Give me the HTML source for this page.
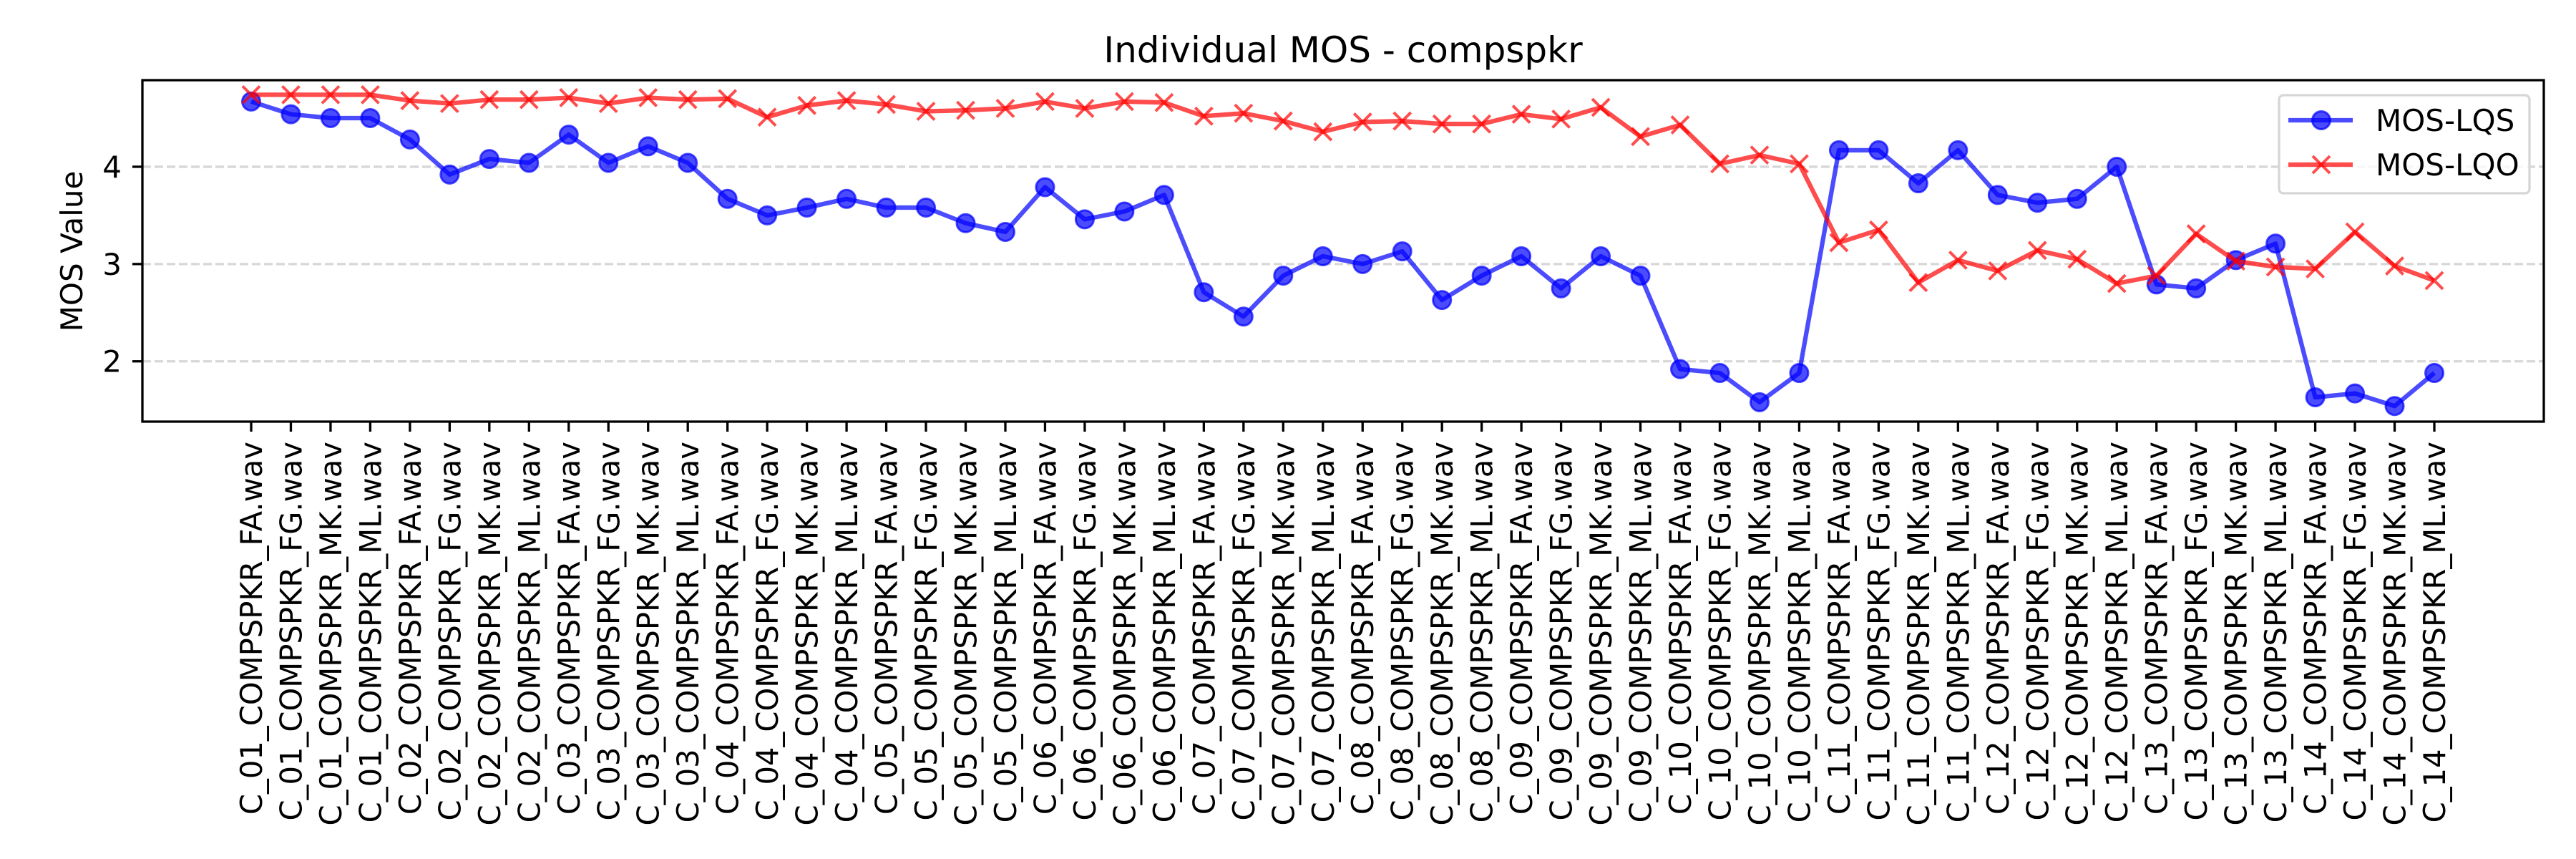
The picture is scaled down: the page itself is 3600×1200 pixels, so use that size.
<!DOCTYPE html>
<html><head><meta charset="utf-8"><style>
html,body{margin:0;padding:0;background:#fff}
svg{display:block;font-family:"DejaVu Sans","Liberation Sans",sans-serif}
</style></head><body>
<svg id="chart" width="3600" height="1200" viewBox="0 0 3600 1200" xmlns="http://www.w3.org/2000/svg">
<rect width="3600" height="1200" fill="#fff"/>
<text x="1877" y="87" font-size="50" text-anchor="middle">Individual MOS - compspkr</text>
<g id="grid"></g>
<g id="yaxis"></g>
<g id="xaxis"></g>
<g id="series"></g>
<rect x="199" y="112" width="3356" height="477" fill="none" stroke="#000" stroke-width="3.3"/>
<text transform="translate(115,351) rotate(-90)" font-size="42" text-anchor="middle">MOS Value</text>
<g>
<rect x="3185" y="133" width="350" height="137" rx="6" fill="#fff" fill-opacity="0.8" stroke="#d6d6d6" stroke-width="3.3"/>
<g>
<line x1="3198" y1="168" x2="3288" y2="168" stroke="#0000ff" stroke-opacity="0.7" stroke-width="6.25"/>
<circle cx="3244" cy="168" r="12.5" fill="#0000ff" fill-opacity="0.7" stroke="#0000ff" stroke-opacity="0.7" stroke-width="3"/>
<text x="3320" y="183" font-size="42">MOS-LQS</text></g>
<g>
<line x1="3198" y1="230" x2="3288" y2="230" stroke="#ff0000" stroke-opacity="0.7" stroke-width="6.25"/>
<path d="M3232,218L3256,242M3232,242L3256,218" stroke="#ff0000" stroke-opacity="0.7" stroke-width="4"/>
<text x="3320" y="245" font-size="42">MOS-LQO</text></g>
</g>
</svg>
<script>
const categories = (function(){const a=[];for(let c=1;c<=14;c++){for(const s of ["FA","FG","MK","ML"]){a.push("C_"+String(c).padStart(2,"0")+"_COMPSPKR_"+s+".wav");}}return a;})();
const lqsValues = [4.67,4.54,4.5,4.5,4.28,3.92,4.08,4.04,4.33,4.04,4.21,4.04,3.67,3.5,3.58,3.67,3.58,3.58,3.42,3.33,3.79,3.46,3.54,3.71,2.71,2.46,2.88,3.08,3.0,3.13,2.63,2.88,3.08,2.75,3.08,2.88,1.92,1.88,1.58,1.88,4.17,4.17,3.83,4.17,3.71,3.63,3.67,4.0,2.79,2.75,3.04,3.21,1.63,1.67,1.54,1.88];
const lqoValues = [4.74,4.74,4.74,4.74,4.68,4.65,4.69,4.69,4.71,4.65,4.71,4.69,4.70,4.51,4.63,4.68,4.64,4.57,4.58,4.60,4.67,4.60,4.67,4.66,4.52,4.55,4.47,4.36,4.46,4.47,4.44,4.44,4.54,4.49,4.61,4.31,4.43,4.03,4.12,4.03,3.22,3.35,2.81,3.04,2.93,3.14,3.05,2.80,2.88,3.31,3.03,2.97,2.95,3.33,2.98,2.83];
const yTicks = [2,3,4];
const yMin = 1.38, yMax = 4.89;
const NS="http://www.w3.org/2000/svg";
const X0=351, X1=3402, PT=112, PB=589;
function xs(i){return X0+(X1-X0)*i/(categories.length-1);}
function ys(v){return PB-(v-yMin)/(yMax-yMin)*(PB-PT);}
function mk(tag,attrs,parent){const e=document.createElementNS(NS,tag);for(const k in attrs)e.setAttribute(k,attrs[k]);parent.appendChild(e);return e;}
const grid=document.getElementById('grid'),ya=document.getElementById('yaxis'),xa=document.getElementById('xaxis'),ser=document.getElementById('series');
yTicks.forEach(t=>{
  const y=ys(t);
  const g=mk('line',{x1:199,x2:3555,y1:y,y2:y,stroke:'#b0b0b0','stroke-opacity':0.5,'stroke-width':3.3,'stroke-dasharray':'12,5'},grid);
  
  
  const tk=mk('line',{x1:185,x2:199,y1:y,y2:y,stroke:'#000','stroke-width':3.3},ya);
  
  
  const tx=mk('text',{x:170,y:y+15,'font-size':42,'text-anchor':'end'},ya);
  tx.textContent=t;
  
  
});
categories.forEach((c,i)=>{
  const x=xs(i);
  const tk=mk('line',{x1:x,x2:x,y1:589,y2:603,stroke:'#000','stroke-width':3.3},xa);
  
  
  const tx=mk('text',{transform:`translate(${x+15},617) rotate(-90)`,'font-size':41.7,'text-anchor':'end'},xa);
  tx.textContent=c;
  
  
});
function series(vals,color,name,marker){
  const g=mk('g',{},ser);
  
  
  const pl=mk('polyline',{points:vals.map((v,i)=>xs(i)+','+ys(v)).join(' '),fill:'none',stroke:color,'stroke-opacity':0.7,'stroke-width':6.25,'stroke-linejoin':'round'},g);
  
  
  vals.forEach((v,i)=>{
    const x=xs(i),y=ys(v);let m;
    if(marker==='o'){m=mk('circle',{cx:x,cy:y,r:12.5,fill:color,'fill-opacity':0.7,stroke:color,'stroke-opacity':0.7,'stroke-width':3},g);}
    else{m=mk('path',{d:`M${x-12},${y-12}L${x+12},${y+12}M${x-12},${y+12}L${x+12},${y-12}`,stroke:color,'stroke-opacity':0.7,'stroke-width':4},g);}
    
    
  });
}
series(lqsValues,'#0000ff','mos-lqs-series','o');
series(lqoValues,'#ff0000','mos-lqo-series','x');
</script>
</body></html>
